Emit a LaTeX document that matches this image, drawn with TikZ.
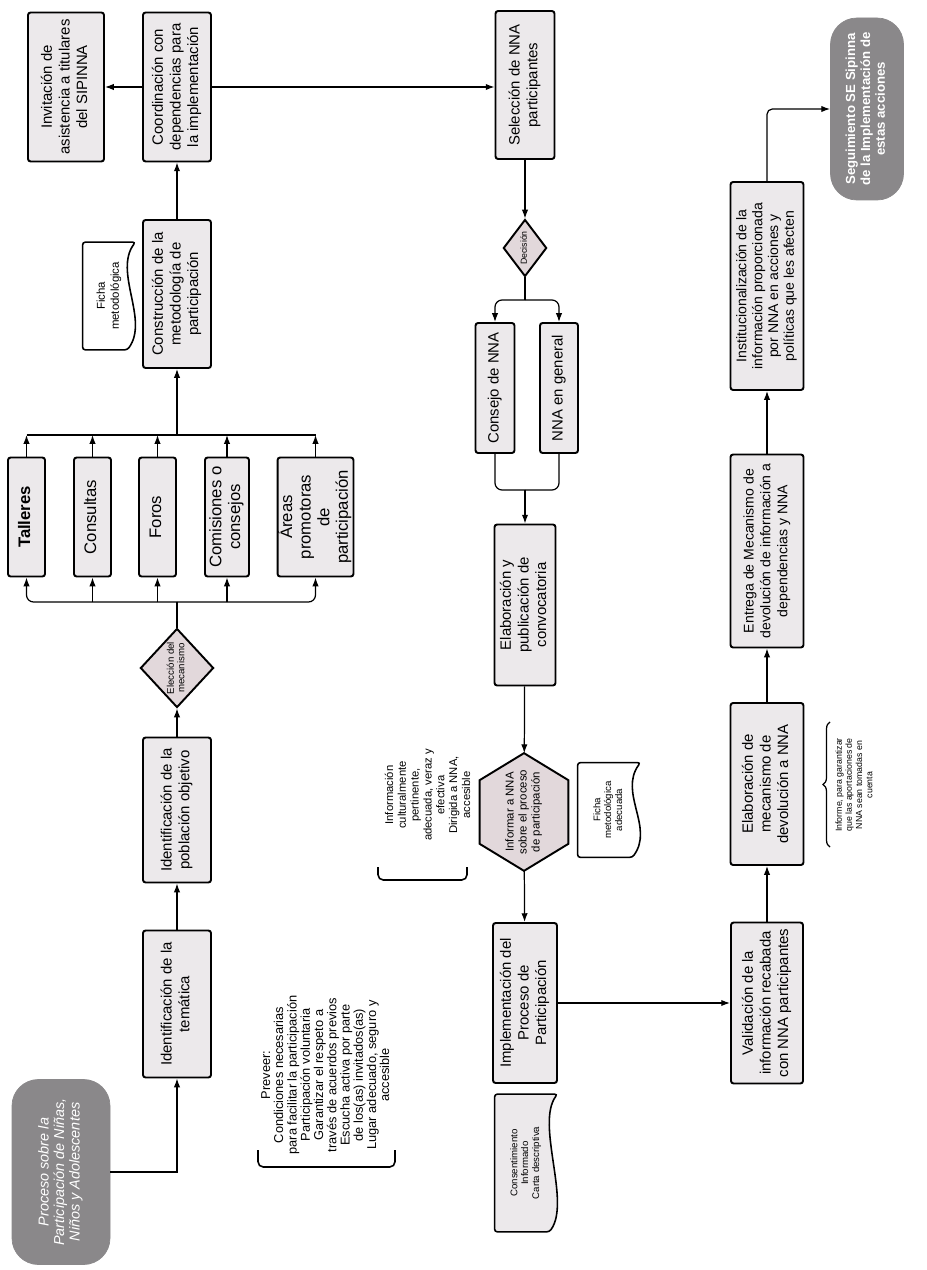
\documentclass[tikz,border=0pt]{standalone}
\usepackage{fontspec}
\setmainfont{Liberation Sans}
\usepackage{graphicx}
\usetikzlibrary{calc,shapes.geometric,decorations.pathreplacing,arrows.meta}
\pgfdeclarelayer{bg}
\pgfsetlayers{bg,main}
\definecolor{boxgray}{RGB}{236,233,235}
\definecolor{termgray}{RGB}{138,136,138}
\definecolor{choicefill}{RGB}{226,216,219}
\def\px{0.02cm}
\newcommand\rotlabel[1]{\rotatebox{90}{\begin{tabular}{@{}c@{}}#1\end{tabular}}}
\newcommand\docshape[2][white]{\begin{pgfonlayer}{bg}\draw[docline, fill=#1] (#2.north west) -- (#2.north east) .. controls +(-22,30) and +(22,-30) .. ($(#2.south east)+(-8,0)$) -- (#2.south west) -- cycle;\end{pgfonlayer}}
\newcommand\hexshape[2]{\begin{pgfonlayer}{bg}\draw[line width=1.1pt, fill=choicefill] (#1.north) -- ($(#1.north east)+(0,#2)$) -- ($(#1.south east)+(0,-#2)$) -- (#1.south) -- ($(#1.south west)+(0,-#2)$) -- ($(#1.north west)+(0,#2)$) -- cycle;\end{pgfonlayer}}

\begin{document}
\begin{tikzpicture}[x=\px, y=-\px,
    dims/.style 2 args={minimum width=#1*\px, minimum height=#2*\px},
    box/.style={draw, line width=1.1pt, rounded corners=1.5pt, fill=boxgray, inner sep=0pt, font=\fontsize{8.5}{10}\selectfont},
    mech/.style={box, font=\fontsize{9.5}{10.6}\selectfont},
    choice/.style={diamond, draw, line width=1.1pt, fill=choicefill, inner sep=0pt, font=\fontsize{5.5}{6}\selectfont},
    hexa/.style={inner sep=0pt, font=\fontsize{6.5}{7.4}\selectfont},
    term/.style={draw=termgray, fill=termgray, rounded corners=15pt, inner sep=0pt, text=white},
    doc/.style={inner sep=0pt, font=\fontsize{5.5}{6.2}\selectfont},
    docline/.style={draw, line width=0.9pt, rounded corners=1.5pt},
    note/.style={inner sep=0pt, font=\fontsize{7.3}{7.4}\selectfont},
    bracket/.style={line width=0.9pt, rounded corners=3pt},
    arr/.style={-{Latex[length=5pt,width=3.6pt]}, line width=0.7pt},
    line/.style={line width=0.7pt}
  ]
  \begin{pgfonlayer}{bg}
    \fill[white] (0,0) rectangle (926,1270);
  \end{pgfonlayer}
  \useasboundingbox (0,0) rectangle (926,1270);

  % primera columna
  \node[box, dims={76}{149}] (inv) at (66,87) {\rotlabel{Invitación de\\asistencia a titulares\\del SIPINNA}};
  \node[box, dims={68}{149}] (coord) at (177,87) {\rotlabel{Coordinación con\\dependencias para\\la implementación}};
  \node[box, dims={68}{148}] (constr) at (177,294) {\rotlabel{Construcción de la\\metodología de\\participación}};
  \node[doc, dims={52}{107}, font=\fontsize{6.5}{8}\selectfont] (ficha) at (109,296) {\rotlabel{Ficha\\metodológica}};
  \docshape{ficha}

  \node[mech, dims={37}{119}, font=\fontsize{9.5}{10.6}\selectfont\bfseries] (talleres) at (26.5,517) {\rotlabel{Talleres}};
  \node[mech, dims={37}{119}] (consultas) at (92.5,517) {\rotlabel{Consultas}};
  \node[mech, dims={37}{119}] (foros) at (157.5,517) {\rotlabel{Foros}};
  \node[mech, dims={44}{119}] (comisiones) at (227,517) {\rotlabel{Comisiones o\\consejos}};
  \node[mech, dims={75}{119}] (areas) at (315.5,517) {\rotlabel{Áreas\\promotoras\\de\\participación}};

  \node[choice, dims={73}{79}] (eleccion) at (177,668) {\rotlabel{Elección del\\mecanismo}};
  \node[box, dims={68}{145}] (poblacion) at (177,810) {\rotlabel{Identificación de la\\población objetivo}};
  \node[box, dims={68}{147}] (tematica) at (177,1004) {\rotlabel{Identificación de la\\temática}};
  \node[term, dims={98}{185}, font=\fontsize{8.2}{8.8}\selectfont\itshape] (inicio) at (61,1172) {\rotlabel{Proceso sobre la\\Participación de Niñas,\\Niños y Adolescentes}};

  \node[note] (prever) at (327,1075) {\rotlabel{Preveer:\\Condiciones necesarias\\para facilitar la participación\\Participación voluntaria\\Garantizar el respeto a\\través de acuerdos previos\\Escucha activa por parte\\de los(as) invitados(as)\\Lugar adecuado, seguro y\\accesible}};
  \draw[bracket] (258,1150) -- (258,1167) -- (395,1167) -- (395,1150);

  % segunda columna
  \node[box, dims={59}{148}] (seleccion) at (525,85) {\rotlabel{Selección de NNA\\participantes}};
  \node[choice, dims={43}{57}, font=\fontsize{5}{5.5}\selectfont] (decision) at (525,248) {\rotlabel{Decisión}};
  \node[box, dims={39}{130}] (consejo) at (495,388) {\rotlabel{Consejo de NNA}};
  \node[box, dims={38}{130}] (general) at (559,388) {\rotlabel{NNA en general}};
  \node[box, dims={61}{161}] (convocatoria) at (525,605) {\rotlabel{Elaboración y\\publicación de\\convocatoria}};
  \node[hexa, dims={88}{117}] (informar) at (524,812) {\rotlabel{Informar a NNA\\sobre el proceso\\de participación}};
  \hexshape{informar}{27}
  \node[note, font=\fontsize{6.4}{7.3}\selectfont] (infotext) at (429,795) {\rotlabel{Información\\culturalmente\\pertinente,\\adecuada, veraz y\\efectiva\\Dirigida a NNA,\\accesible}};
  \draw[bracket] (378,867) -- (378,880) -- (467,880) -- (467,867);
  \node[doc, dims={62}{94}] (ficha2) at (609,810) {\rotlabel{Ficha\\metodológica\\adecuada}};
  \docshape{ficha2}
  \node[box, dims={64}{160}] (implementacion) at (525,1003) {\rotlabel{Implementación del\\Proceso de\\Participación}};
  \node[doc, dims={62}{137}] (consent) at (526,1163) {\rotlabel{Consentimiento\\Informado\\Carta descriptiva}};
  \docshape[boxgray]{consent}

  % tercera columna
  \node[box, dims={72}{161}] (validacion) at (767,1003) {\rotlabel{Validación de la\\información recabada\\con NNA participantes}};
  \node[box, dims={73}{162}] (devolucion) at (767,784) {\rotlabel{Elaboración de\\mecanismo de\\devolución a NNA}};
  \node[note, font=\fontsize{5}{5.8}\selectfont] (informe) at (855,785) {\rotlabel{Informe, para garantizar\\que las aportaciones de\\NNA sean tomadas en\\cuenta}};
  \draw[decorate, decoration={brace, amplitude=4pt}, line width=0.7pt] (830,847) -- (830,722);
  \node[box, dims={73}{193}, font=\fontsize{8}{9.6}\selectfont] (entrega) at (767,551) {\rotlabel{Entrega de Mecanismo de\\devolución de información a\\dependencias y NNA}};
  \node[box, dims={73}{208}, font=\fontsize{8}{9}\selectfont] (instit) at (767,286) {\rotlabel{Institucionalización de la\\información proporcionada\\por NNA en acciones y\\políticas que les afecten}};
  \node[term, dims={73}{182}, font=\fontsize{7.5}{8.5}\selectfont\bfseries] (seguimiento) at (867,109) {\rotlabel{Seguimiento SE Sipinna\\de la Implementación de\\estas acciones}};

  % conectores
  \draw[arr] (inicio.east) -| (tematica.south);
  \draw[arr] (tematica) -- (poblacion);
  \draw[arr] (poblacion) -- (eleccion);
  \coordinate (split) at (177,602);
  \draw[line] (eleccion) -- (split);
  \draw[arr, rounded corners=4pt] (split) -| (talleres.south);
  \draw[arr, rounded corners=4pt] (split) -| (areas.south);
  \foreach \m in {consultas,foros,comisiones}
    \draw[arr] (\m.south |- split) -- (\m.south);
  \coordinate (merge) at (177,435);
  \draw[line] (talleres.north |- merge) -- (areas.north |- merge);
  \foreach \m in {talleres,consultas,foros,comisiones,areas}
    \draw[arr] (\m.north) -- (\m.north |- merge);
  \draw[arr] (merge) -- (constr.south);
  \draw[arr] (constr) -- (coord);
  \draw[arr] (coord) -- (inv);
  \draw[arr] (coord.east) -- (coord.east -| seleccion.west);
  \draw[arr] (seleccion) -- (decision);
  \coordinate (dsplit) at (525,300);
  \draw[line] (decision) -- (dsplit);
  \draw[arr, rounded corners=4pt] (dsplit) -| (consejo.north);
  \draw[arr, rounded corners=4pt] (dsplit) -| (general.north);
  \coordinate (dmerge) at (525,490);
  \draw[line, rounded corners=4pt] (consejo.south) |- (dmerge);
  \draw[line, rounded corners=4pt] (general.south) |- (dmerge);
  \draw[arr] (dmerge) -- (convocatoria.north);
  \draw[arr] (convocatoria) -- (informar);
  \draw[arr] (informar) -- (implementacion);
  \draw[arr] (implementacion) -- (validacion);
  \draw[arr] (validacion) -- (devolucion);
  \draw[arr] (devolucion) -- (entrega);
  \draw[arr] (entrega) -- (instit);
  \draw[arr, rounded corners=3pt] (instit.north) |- (seguimiento.west);
\end{tikzpicture}
\end{document}
